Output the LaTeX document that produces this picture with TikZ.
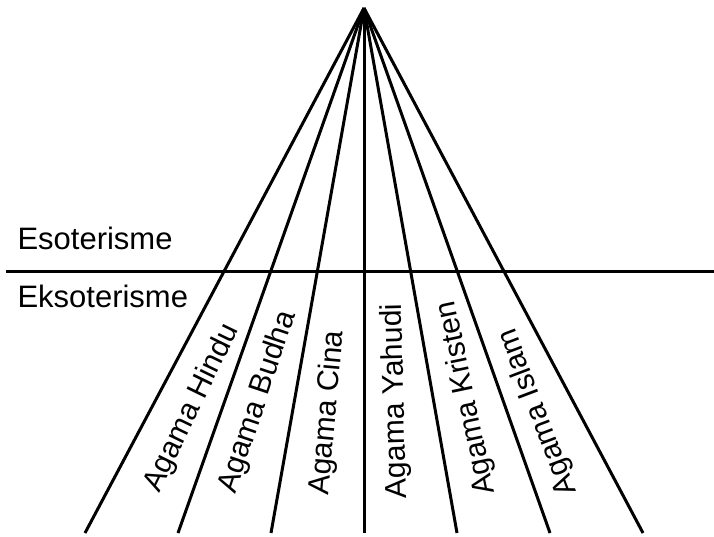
\documentclass[tikz,border=0pt]{standalone}
\usepackage{fontspec}
\setmainfont{Liberation Sans}
\begin{document}
\begin{tikzpicture}[x=1pt,y=1pt,line width=3pt,
  lbl/.style={font=\fontsize{31}{31}\selectfont, inner sep=0pt},
  rlbl/.style={font=\fontsize{30}{30}\selectfont, inner sep=0pt}]
\useasboundingbox (0,0) rectangle (714,536);
\coordinate (apex) at (364,528);
\foreach \i/\x in {1/85,2/178,3/271,4/364,5/457,6/550,7/643}
  \coordinate (b\i) at (\x,3);
\foreach \i in {1,...,7}
  \draw (apex) -- (b\i);
\coordinate (hl) at (6,265);
\coordinate (hr) at (714,265);
\draw (hl) -- (hr);
\node[lbl, anchor=base west] (eso) at (16,286) {Esoterisme};
\node[lbl, anchor=base west] (ekso) at (16,229) {Eksoterisme};
\node[rlbl, rotate=64] (hindu) at (192,128) {Agama Hindu};
\node[rlbl, rotate=71.5] (budha) at (258,134) {Agama Budha};
\node[rlbl, rotate=85] (cina) at (328,123) {Agama Cina};
\node[rlbl, rotate=91.5] (yahudi) at (396,135) {Agama Yahudi};
\node[rlbl, rotate=101.8] (kristen) at (467,138) {Agama Kristen};
\node[rlbl, rotate=110.8] (islam) at (538,124) {Agama Islam};
\end{tikzpicture}
\end{document}
